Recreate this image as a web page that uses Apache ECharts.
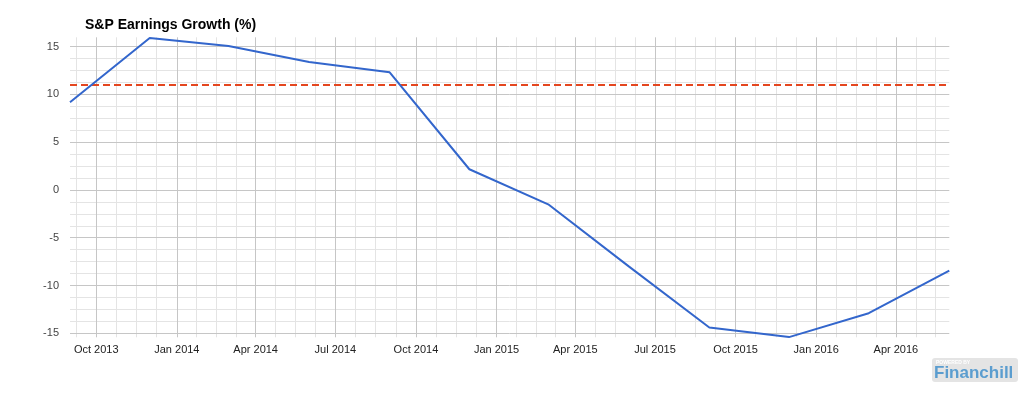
<!DOCTYPE html>
<html><head><meta charset="utf-8">
<script src="https://cdn.jsdelivr.net/npm/echarts@6/dist/echarts.min.js"></script>
<style>html,body{margin:0;padding:0;background:#fff}#c{width:1020px;height:410px}</style>
</head><body><div id="c"></div>
<script>
const chartTitle = 'S&P Earnings Growth (%)';
const dates = ['2013-09-01','2013-12-01','2014-03-01','2014-06-01','2014-09-01','2014-12-01',
               '2015-03-01','2015-06-01','2015-09-01','2015-12-01','2016-03-01','2016-06-01'];
const growth = [9.18, 15.9, 15.07, 13.4, 12.32, 2.17, -1.5, -8.0, -14.4, -15.4, -12.9, -8.45];
const targetGrowth = 11;
const yTicks = [-15, -10, -5, 0, 5, 10, 15];
const xTickDates = ['2013-10-01','2014-01-01','2014-04-01','2014-07-01','2014-10-01','2015-01-01',
                    '2015-04-01','2015-07-01','2015-10-01','2016-01-01','2016-04-01'];
const xTickLabels = ['Oct 2013','Jan 2014','Apr 2014','Jul 2014','Oct 2014','Jan 2015',
                     'Apr 2015','Jul 2015','Oct 2015','Jan 2016','Apr 2016'];
const xRange = ['2013-09-01', '2016-06-01'];
const yRange = [-15.42, 15.98];

function ts(s){ const p = s.split('-').map(Number); return Date.UTC(p[0], p[1]-1, p[2]); }
const xMin = ts(xRange[0]), xMax = ts(xRange[1]);
const xTickTs = xTickDates.map(ts);

// gridlines
const MAJOR = '#c6c6c6', MINOR = '#e4e4e4';
const gridLines = [];
for (let i = 0; i < yTicks.length; i++) {
  for (let k = -3; k <= 3; k++) {
    if (k === 0) continue;
    const v = yTicks[i] + k * 1.25;
    if (k > 0 && i < yTicks.length - 1) gridLines.push({yAxis: v, lineStyle: {color: MINOR}});
    else if (k > 0 && i === yTicks.length - 1 && v < yRange[1]) gridLines.push({yAxis: v, lineStyle: {color: MINOR}});
    else if (k < 0 && i === 0 && v > yRange[0]) gridLines.push({yAxis: v, lineStyle: {color: MINOR}});
  }
}
const qStarts = [ts('2013-07-01')].concat(xTickTs).concat([ts('2016-07-01')]);
for (let i = 0; i < qStarts.length - 1; i++) {
  const a = qStarts[i], b = qStarts[i+1];
  for (let k = 1; k < 4; k++) {
    const v = a + (b - a) * k / 4;
    if (v > xMin && v < xMax) gridLines.push({xAxis: v, lineStyle: {color: MINOR}});
  }
}
yTicks.forEach(v => gridLines.push({yAxis: v, lineStyle: {color: MAJOR}}));
xTickTs.forEach(v => gridLines.push({xAxis: v, lineStyle: {color: MAJOR}}));

const chart = echarts.init(document.getElementById('c'), null, {renderer: 'canvas'});
chart.setOption({
  animation: false,
  backgroundColor: '#fff',
  title: {
    text: chartTitle, left: 80, top: 13,
    textStyle: {fontFamily: 'Liberation Sans, Arial, sans-serif', fontSize: 14, fontWeight: 'bold', color: '#000'}
  },
  grid: {left: 70, right: 70.7, top: 37.3, bottom: 72.7, containLabel: false},
  xAxis: {
    type: 'value', min: xMin, max: xMax,
    axisLine: {show: false}, axisTick: {show: false}, splitLine: {show: false},
    axisLabel: {
      customValues: xTickTs, margin: 7, color: '#222', fontSize: 11,
      fontFamily: 'Liberation Sans, Arial, sans-serif',
      formatter: function (v) { const i = xTickTs.indexOf(v); return i >= 0 ? xTickLabels[i] : ''; }
    }
  },
  yAxis: {
    type: 'value', min: yRange[0], max: yRange[1],
    axisLine: {show: false}, axisTick: {show: false}, splitLine: {show: false},
    axisLabel: {
      customValues: yTicks, margin: 11, color: '#444', fontSize: 11,
      fontFamily: 'Liberation Sans, Arial, sans-serif',
      formatter: function (v) { return String(v); }
    }
  },
  series: [
    {
      type: 'line', data: [], z: 1, silent: true,
      markLine: {silent: true, symbol: 'none', label: {show: false}, animation: false,
        lineStyle: {type: 'solid', width: 1}, data: gridLines}
    },
    {
      type: 'line', z: 5,
      data: dates.map((d, i) => [ts(d), growth[i]]),
      showSymbol: false, symbol: 'none',
      lineStyle: {color: '#3366cc', width: 2},
      markLine: {silent: true, symbol: 'none', label: {show: false}, animation: false,
        lineStyle: {type: [7, 4], color: '#e4461f', width: 2},
        data: [{yAxis: targetGrowth}]}
    }
  ],
  graphic: [
    {type: 'rect', shape: {x: 932, y: 358, width: 86, height: 24, r: 3}, style: {fill: '#e4e4e4'}},
    {type: 'text', x: 936, y: 360, style: {text: 'POWERED BY', fill: '#ffffff', font: 'bold 5px Liberation Sans, Arial, sans-serif'}},
    {type: 'text', x: 934, y: 364.5, style: {text: 'Financhill', fill: '#5b9dcf', font: 'bold 17px Liberation Sans, Arial, sans-serif'}}
  ]
});
</script>
</body></html>
